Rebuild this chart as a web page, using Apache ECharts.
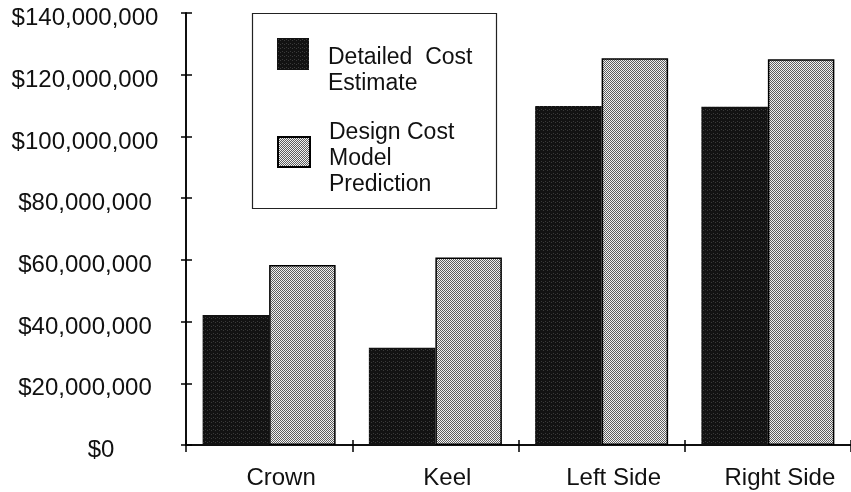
<!DOCTYPE html>
<html>
<head>
<meta charset="utf-8">
<script src="https://cdn.jsdelivr.net/npm/echarts@6/dist/echarts.min.js"></script>
<style>
  html, body { margin: 0; padding: 0; background: #fff; }
  #chart { width: 851px; height: 492px; }
</style>
</head>
<body>
<div id="chart"></div>
<script>
// chart data
const categories = ['Crown', 'Keel', 'Left Side', 'Right Side'];
const detailedCost = [42100000, 31500000, 109900000, 109600000];
const modelPrediction = [58300000, 60800000, 125300000, 125000000];
const seriesNames = ['Detailed Cost Estimate', 'Design Cost Model Prediction'];
const legendLabels = {
    'Detailed Cost Estimate': '{gap1| }\n{t|Detailed  Cost}\n{t|Estimate}',
    'Design Cost Model Prediction': '{gap2| }\n{t|Design Cost}\n{t|Model}\n{t|Prediction}'
};

const FONT = 'Liberation Sans, Arial, Helvetica, sans-serif';

// small pixel patterns for the bars
function makePattern(size, base, dots, dotColor) {
    let c = document.createElement('canvas');
    c.width = size;
    c.height = size;
    let ctx = c.getContext('2d');
    ctx.fillStyle = base;
    ctx.fillRect(0, 0, size, size);
    ctx.fillStyle = dotColor;
    dots.forEach(d => ctx.fillRect(d[0], d[1], 1, 1));
    return c;
}
const darkPattern = makePattern(4, '#121212', [[1, 1], [3, 2]], '#3a3a3a');
const lightPattern = makePattern(2, '#f2f2f2', [[0, 0], [1, 1]], '#5e5e5e');

const legendRich = {
    t: { fontFamily: FONT, fontSize: 23, lineHeight: 26, height: 26, color: '#111' },
    gap1: { fontSize: 4, height: 34, lineHeight: 34 },
    gap2: { fontSize: 4, height: 14, lineHeight: 14 }
};

let chart = echarts.init(document.getElementById('chart'), null, { renderer: 'canvas' });

let option = {
    backgroundColor: '#ffffff',
    animation: false,
    grid: {
        left: 186,
        top: 13,
        bottom: 47,
        width: 672
    },
    legend: [{
        data: [seriesNames[0]],
        left: 277,
        top: 11,
        padding: 0,
        icon: 'rect',
        itemWidth: 32,
        itemHeight: 32,
        itemGap: 0,
        selectedMode: false,
        formatter: name => legendLabels[name],
        textStyle: { padding: [0, 0, 0, 14], rich: legendRich }
    }, {
        data: [seriesNames[1]],
        left: 277,
        top: 106,
        padding: 0,
        icon: 'rect',
        itemWidth: 32,
        itemHeight: 30,
        itemGap: 0,
        selectedMode: false,
        formatter: name => legendLabels[name],
        textStyle: { padding: [0, 0, 0, 14], rich: legendRich }
    }],
    graphic: [{
        type: 'rect',
        left: 250,
        top: 11,
        shape: { width: 244, height: 195 },
        style: { fill: 'none', stroke: '#222', lineWidth: 1.2 },
        z: 1
    }],
    xAxis: [{
        type: 'category',
        data: categories,
        position: 'bottom',
        axisLine: { lineStyle: { color: '#000', width: 1.5 } },
        axisTick: { show: true, length: 7, lineStyle: { color: '#000', width: 1.5 } },
        axisLabel: {
            fontFamily: FONT,
            fontSize: 24,
            color: '#111',
            margin: 21,
            padding: [0, 0, 0, 24]
        }
    }, {
        // upper half of the crossing ticks
        type: 'category',
        data: categories,
        position: 'bottom',
        axisLine: { show: true, lineStyle: { color: '#000', width: 1.5 } },
        axisTick: { show: true, inside: true, length: 5, lineStyle: { color: '#000', width: 1.5 } },
        axisLabel: { show: false }
    }],
    yAxis: [{
        type: 'value',
        min: 0,
        max: 140000000,
        interval: 20000000,
        axisLine: { show: true, lineStyle: { color: '#000', width: 1.5 } },
        axisTick: { show: true, length: 5, lineStyle: { color: '#000', width: 1.5 } },
        splitLine: { show: false },
        axisLabel: {
            fontFamily: FONT,
            fontSize: 24,
            color: '#111',
            margin: 101,
            align: 'center',
            formatter: v => v === 0 ? '{z|$0}' : '{n|$' + v.toLocaleString('en-US') + '}',
            rich: {
                n: { fontFamily: FONT, fontSize: 24, color: '#111', padding: [11, 0, 0, 0] },
                z: { fontFamily: FONT, fontSize: 24, color: '#111', padding: [11, 0, 0, 32] }
            }
        }
    }, {
        // right half of the crossing ticks
        type: 'value',
        position: 'left',
        min: 0,
        max: 140000000,
        interval: 20000000,
        axisLine: { show: true, lineStyle: { color: '#000', width: 1.5 } },
        axisTick: { show: true, inside: true, length: 6, lineStyle: { color: '#000', width: 1.5 } },
        splitLine: { show: false },
        axisLabel: { show: false }
    }],
    series: [{
        name: seriesNames[0],
        type: 'bar',
        data: detailedCost,
        barGap: '0%',
        barCategoryGap: '20%',
        itemStyle: {
            color: { image: darkPattern, repeat: 'repeat' },
            borderColor: '#000',
            borderWidth: 0
        }
    }, {
        name: seriesNames[1],
        type: 'bar',
        data: modelPrediction,
        barGap: '0%',
        barCategoryGap: '20%',
        itemStyle: {
            color: { image: lightPattern, repeat: 'repeat' },
            borderColor: '#000',
            borderWidth: 1.5
        }
    }, {
        // empty series so the tick-only axes get drawn
        name: 'ticks',
        type: 'line',
        xAxisIndex: 1,
        yAxisIndex: 1,
        data: [],
        silent: true
    }]
};

chart.setOption(option);
</script>
</body>
</html>
